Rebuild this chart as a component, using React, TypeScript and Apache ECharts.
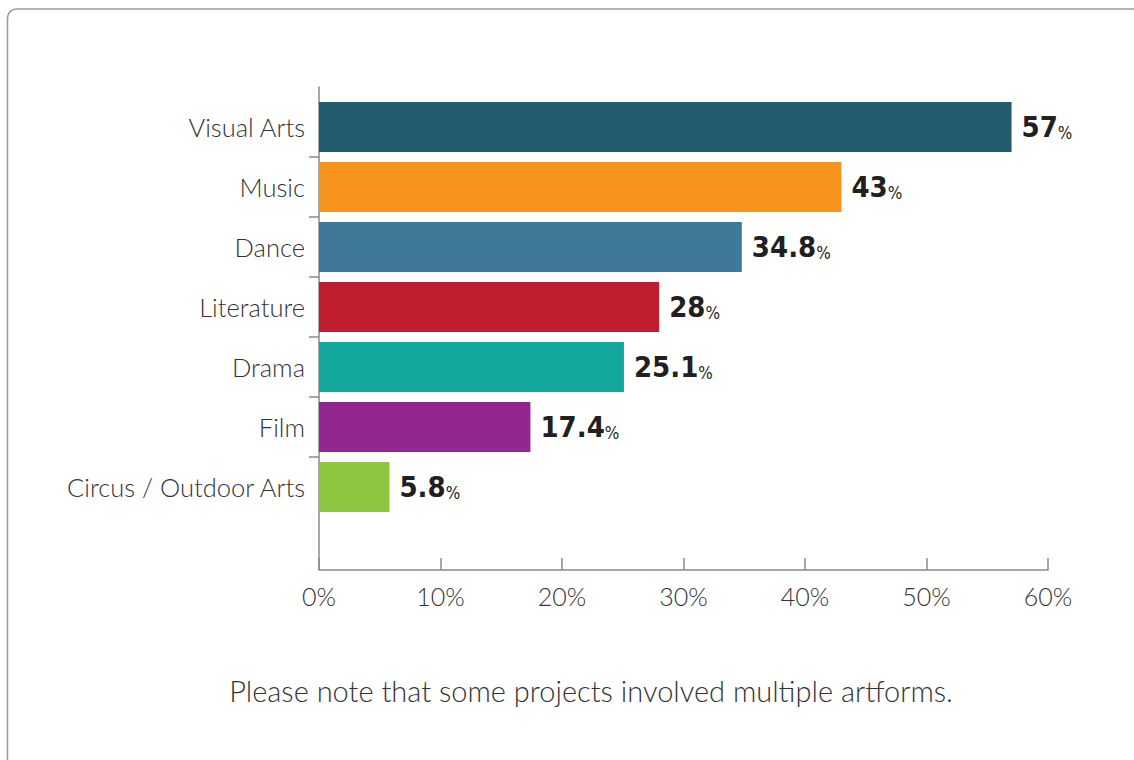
import React, { useEffect, useRef } from "react";
import * as echarts from "echarts";

const categories = [
  "Visual Arts",
  "Music",
  "Dance",
  "Literature",
  "Drama",
  "Film",
  "Circus / Outdoor Arts",
];
const values = [57, 43, 34.8, 28, 25.1, 17.4, 5.8];
const barColors = [
  "#225b6e",
  "#f7941d",
  "#3f7899",
  "#be1e2d",
  "#13a89e",
  "#92278f",
  "#8dc63f",
];
const xTicks = [0, 10, 20, 30, 40, 50, 60];
const footnote = "Please note that some projects involved multiple artforms.";

const LABEL_FONT = "Lato, 'Open Sans', sans-serif";
const NUM_FONT = "'DejaVu Sans Condensed', 'Liberation Sans', sans-serif";

export default function App() {
  const ref = useRef<HTMLDivElement>(null);
  useEffect(() => {
    if (!ref.current) return;
    const chart = echarts.init(ref.current, null, { renderer: "svg" });
    const boundaries = categories.map((_, i) => i).slice(1);
    const option: any = {
      animation: false,
      backgroundColor: "#ffffff",
      grid: [
        { left: 319, top: 97, width: 729, height: 420, containLabel: false },
        { left: 319, top: 87, width: 729, height: 483, containLabel: false },
      ],
      xAxis: [
        {
          gridIndex: 0,
          type: "value",
          min: xTicks[0],
          max: xTicks[xTicks.length - 1],
          show: false,
        },
        {
          gridIndex: 1,
          type: "value",
          position: "bottom",
          min: xTicks[0],
          max: xTicks[xTicks.length - 1],
          interval: 10,
          axisLine: { show: true, onZero: false, lineStyle: { color: "#8a8a8a", width: 1.5 } },
          axisTick: { show: true, inside: true, length: 12, lineStyle: { color: "#8a8a8a", width: 1.5 } },
          splitLine: { show: false },
          axisLabel: {
            formatter: "{value}%",
            fontFamily: LABEL_FONT,
            fontSize: 25,
            fontWeight: 300,
            color: "#333333",
            margin: 13,
          },
        },
      ],
      yAxis: [
        {
          gridIndex: 0,
          type: "category",
          data: categories,
          inverse: true,
          axisLine: { show: false },
          axisTick: { show: false },
          splitLine: { show: false },
          axisLabel: {
            fontFamily: LABEL_FONT,
            fontSize: 25.5,
            fontWeight: 300,
            color: "#333333",
            margin: 14,
          },
        },
        {
          gridIndex: 1,
          type: "value",
          inverse: true,
          min: -10 / 60,
          max: 7 + 53 / 60,
          axisLine: { show: true, onZero: false, lineStyle: { color: "#8a8a8a", width: 1.5 } },
          axisTick: {
            show: true,
            length: 10,
            customValues: boundaries,
            lineStyle: { color: "#8a8a8a", width: 1.5 },
          },
          axisLabel: { show: false },
          splitLine: { show: false },
        },
      ],
      series: [
        {
          type: "bar",
          xAxisIndex: 0,
          yAxisIndex: 0,
          barWidth: 50,
          data: values.map((v, i) => ({ value: v, itemStyle: { color: barColors[i] } })),
          label: {
            show: true,
            position: "right",
            distance: 10,
            offset: [0, -1],
            formatter: (p: any) => `{n|${p.value}}{p|%}`,
            rich: {
              n: {
                fontFamily: NUM_FONT,
                fontWeight: "bold",
                fontSize: 29,
                color: "#231f20",
                verticalAlign: "bottom",
                lineHeight: 30,
              },
              p: {
                fontFamily: NUM_FONT,
                fontSize: 17,
                color: "#231f20",
                verticalAlign: "bottom",
                lineHeight: 25,
              },
            },
          },
        },
      ],
      graphic: [
        {
          type: "rect",
          z: -10,
          shape: { x: 7.5, y: 9, width: 1150, height: 780, r: 9 },
          style: { fill: "none", stroke: "#9a9a9a", lineWidth: 1.5 },
        },
        {
          type: "text",
          x: 591,
          y: 690,
          style: {
            text: footnote,
            fontFamily: LABEL_FONT,
            fontSize: 29,
            fontWeight: 300,
            fill: "#333333",
            align: "center",
            verticalAlign: "middle",
          },
        },
      ],
    };
    chart.setOption(option);
    return () => chart.dispose();
  }, []);
  return (
    <div
      ref={ref}
      style={{ position: "fixed", left: 0, top: 0, width: 1134, height: 760 }}
    />
  );
}
